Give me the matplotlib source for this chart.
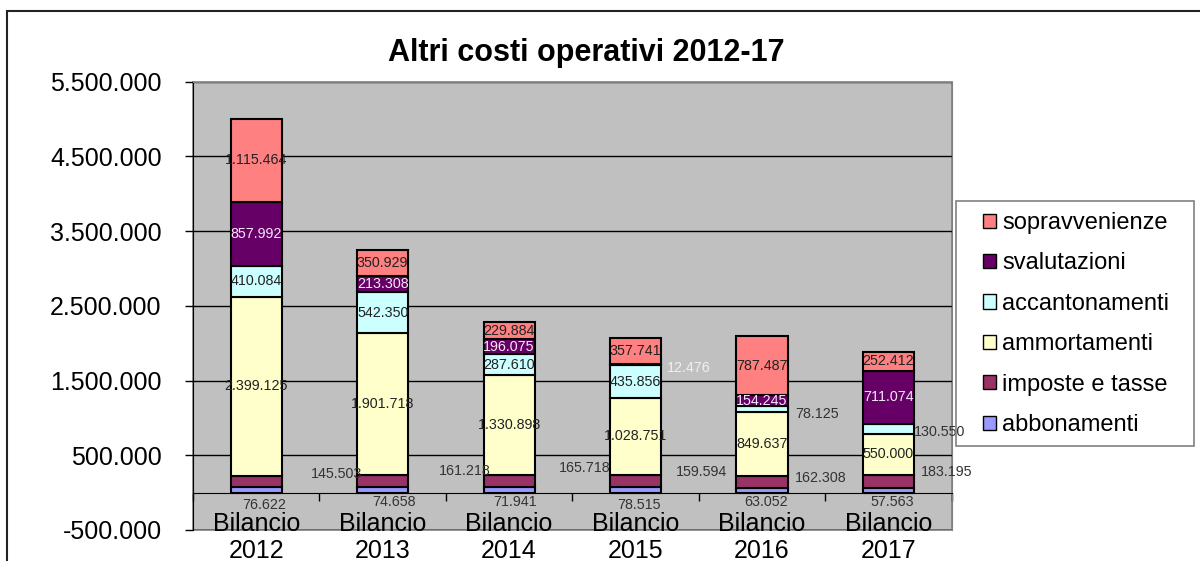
import numpy as np
import matplotlib.pyplot as plt
from matplotlib.patches import Patch, Rectangle
from matplotlib.ticker import FuncFormatter

plt.rcParams['font.family'] = ['Liberation Sans', 'DejaVu Sans']

# data (stacking order: bottom -> top)
years = ['2012', '2013', '2014', '2015', '2016', '2017']
abbonamenti = [76622, 74658, 71941, 78515, 63052, 57563]
imposte_tasse = [145503, 161218, 165718, 159594, 162308, 183195]
ammortamenti = [2399125, 1901718, 1330898, 1028751, 849637, 550000]
accantonamenti = [410084, 542350, 287610, 435856, 78125, 130550]
svalutazioni = [857992, 213308, 196075, 12476, 154245, 711074]
sopravvenienze = [1115464, 350929, 229884, 357741, 787487, 252412]

series = [
    ('abbonamenti', abbonamenti, '#9999FF', '#222222'),
    ('imposte e tasse', imposte_tasse, '#993366', '#333333'),
    ('ammortamenti', ammortamenti, '#FFFFCC', '#222222'),
    ('accantonamenti', accantonamenti, '#CCFFFF', '#222222'),
    ('svalutazioni', svalutazioni, '#660066', '#F5E8F5'),
    ('sopravvenienze', sopravvenienze, '#FF8080', '#222222'),
]

# labels that were dragged outside the bars: (series, year index) -> pixel offset from bar centre / segment centre
moved = {
    ('abbonamenti', 0): (8, -12), ('abbonamenti', 1): (11, -9), ('abbonamenti', 2): (6, -9),
    ('abbonamenti', 3): (3, -12), ('abbonamenti', 4): (4, -9), ('abbonamenti', 5): (4, -9),
    ('imposte e tasse', 0): (80, 7), ('imposte e tasse', 1): (82, 10), ('imposte e tasse', 2): (76, 13),
    ('imposte e tasse', 3): (66, 9), ('imposte e tasse', 4): (59, 4), ('imposte e tasse', 5): (58, 9),
    ('accantonamenti', 4): (55, -5), ('accantonamenti', 5): (51, -3),
    ('svalutazioni', 3): (53, -3),
}

fig = plt.figure(figsize=(12, 5.61), dpi=100)
ax = fig.add_axes([0.1608, 0.0553, 0.6323, 0.7991])
ax.set_facecolor('#C0C0C0')

x = np.arange(len(years))
bottom = np.zeros(len(years))
for name, vals, color, tcolor in series:
    vals = np.array(vals, dtype=float)
    ax.bar(x, vals, 0.405, bottom=bottom, color=color, edgecolor='black', linewidth=1.5, zorder=3)
    for i, v in enumerate(vals):
        txt = f"{v:,.0f}".replace(',', '.')
        if (name, i) in moved:
            dx, dy = moved[(name, i)]
            if name == 'abbonamenti':
                y0 = 0
            else:
                y0 = bottom[i] + v / 2
            col = '#F0F0F0' if name == 'svalutazioni' else '#333333'
            ax.annotate(txt, (x[i], y0), xytext=(dx, dy), textcoords='offset pixels',
                        ha='center', va='center', fontsize=10.3, color=col, zorder=5,
                        annotation_clip=False)
        else:
            ax.text(x[i], bottom[i] + v / 2, txt, ha='center', va='center',
                    fontsize=10.3, color=tcolor, zorder=5)
    bottom += vals

ax.set_xlim(-0.5, len(years) - 0.5)
ax.set_ylim(-500000, 5500000)
ax.set_yticks(np.arange(-500000, 5500001, 1000000))
ax.yaxis.set_major_formatter(FuncFormatter(lambda v, p: f"{v:,.0f}".replace(',', '.')))
ax.yaxis.grid(True, color='black', linewidth=1)
ax.set_axisbelow(True)
ax.tick_params(axis='y', direction='out', length=6, width=1, labelsize=18, pad=16.5, colors='black')

# category axis sits on the zero line
ax.spines['bottom'].set_position(('data', 0))
ax.spines['bottom'].set_color('black')
ax.set_xticks(x)
ax.set_xticklabels(['Bilancio\n' + y for y in years], fontsize=18, linespacing=1.15)
ax.set_xticks(np.arange(-0.5, len(years)), minor=True)
ax.tick_params(axis='x', which='major', length=0, pad=14)
ax.tick_params(axis='x', which='minor', direction='out', length=6, width=1, color='black')

for s in ['top', 'right']:
    ax.spines[s].set_color('#808080')
ax.spines['left'].set_color('black')
ax.patch.set_edgecolor('#808080')
ax.patch.set_linewidth(1.2)

fig.text(586 / 1200, 1 - 61 / 561, 'Altri costi operativi 2012-17', ha='center', va='baseline',
         fontsize=22, fontweight='bold')

# legend (top to bottom reversed)
handles = [Patch(facecolor=c, edgecolor='black', linewidth=1) for _, _, c, _ in series][::-1]
labels = [n for n, _, _, _ in series][::-1]
fig.legend(handles, labels, loc='upper left', bbox_to_anchor=(983 / 1200, 1 - 212 / 561),
           frameon=False, fontsize=17, handlelength=0.55, handleheight=0.55,
           handletextpad=0.25, labelspacing=0.78, borderpad=0, borderaxespad=0)
fig.add_artist(Rectangle((956 / 1200, 1 - 446 / 561), 238 / 1200, 245 / 561,
                         transform=fig.transFigure, fill=False, edgecolor='#808080', linewidth=1.2))

# outer chart border
fig.add_artist(Rectangle((7 / 1200, -0.1), 1.2, 1.1 - 11 / 561,
                         transform=fig.transFigure, fill=False, edgecolor='#222222', linewidth=1.5))

fig.savefig('out.png', dpi=100)
